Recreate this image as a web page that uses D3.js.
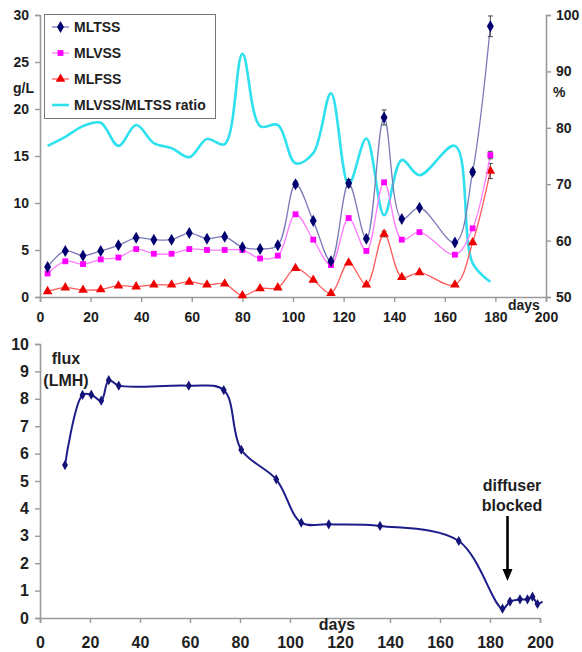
<!DOCTYPE html>
<html>
<head>
<meta charset="utf-8">
<script src="https://cdn.jsdelivr.net/npm/d3@7"></script>
<style>
  html, body { margin: 0; padding: 0; background: #fff; }
  svg { display: block; font-family: "Liberation Sans", Arial, sans-serif; font-weight: bold; }
</style>
</head>
<body>
<svg id="chart" width="582" height="652"></svg>
<script>
// ---- Sludge concentrations (g/L) sampled weekly ----
const days = [3, 10, 17, 24, 31, 38, 45, 52, 59, 66, 73, 80, 87, 94, 101, 108, 115, 122, 129, 136, 143, 150, 164, 171, 178];
const mltss = [3.2, 4.9, 4.4, 4.9, 5.5, 6.3, 6.1, 6.1, 6.8, 6.2, 6.4, 5.3, 5.1, 5.5, 12.0, 8.1, 3.8, 12.1, 6.2, 19.1, 8.3, 9.5, 5.8, 13.3, 28.8];
const mlvss = [2.5, 3.8, 3.5, 4.0, 4.2, 5.1, 4.6, 4.6, 5.1, 5.0, 5.0, 5.0, 4.1, 4.4, 8.8, 6.1, 3.4, 8.4, 4.9, 12.2, 6.1, 6.9, 4.5, 7.3, 15.1];
const mlfss = [0.6, 1.0, 0.75, 0.8, 1.2, 1.1, 1.3, 1.3, 1.6, 1.3, 1.4, 0.15, 0.9, 1.0, 3.05, 1.8, 0.4, 3.65, 1.3, 6.7, 2.1, 2.6, 1.3, 5.8, 13.4];
// standard deviations (only a few samples have visible error bars)
const mltssErr = [0, 0, 0, 0, 0, 0, 0, 0, 0, 0, 0, 0, 0, 0, 0.3, 0, 0, 0.4, 0, 0.8, 0, 0, 0, 0.3, 1.1];
const mlvssErr = [0, 0, 0, 0, 0, 0, 0, 0, 0, 0, 0, 0, 0, 0, 0, 0, 0, 0, 0, 0, 0, 0, 0, 0, 0.4];
const mlfssErr = [0, 0, 0, 0, 0, 0, 0, 0, 0, 0, 0, 0, 0, 0, 0, 0, 0, 0, 0, 0.3, 0, 0, 0, 0, 0.8];
// MLVSS/MLTSS ratio (%)
const ratio = [76.8, 78.4, 80.3, 80.9, 76.8, 80.5, 77.3, 76.4, 74.8, 78.0, 77.1, 93.1, 80.3, 80.5, 73.7, 75.5, 86.1, 70.0, 78.1, 64.5, 74.3, 71.6, 76.8, 56.0, 52.7];

// ---- Permeate flux (LMH) ----
const fluxDays = [10, 17, 20.5, 24.5, 27.5, 31.5, 59.5, 73.5, 80.5, 94.5, 104.5, 115.5, 136, 167.5, 185, 188, 192, 195, 197, 199, 201];
const fluxVals = [5.58, 8.14, 8.15, 7.93, 8.68, 8.48, 8.48, 8.32, 6.14, 5.06, 3.48, 3.42, 3.36, 2.81, 0.34, 0.6, 0.68, 0.68, 0.78, 0.51, 0.6];

// ---- Axis ticks ----
const dayTicks = [0, 20, 40, 60, 80, 100, 120, 140, 160, 180, 200];
const concTicks = [0, 5, 10, 15, 20, 25, 30];
const pctTicks = [50, 60, 70, 80, 90, 100];
const fluxTicks = [0, 1, 2, 3, 4, 5, 6, 7, 8, 9, 10];

const svg = d3.select("#chart");
const axisColor = "#9a9a9a";
const textColor = "#1e1e1e";

function styleAxis(g, fontSize) {
  g.selectAll("path.domain").attr("stroke", axisColor).attr("stroke-width", 1.6);
  g.selectAll(".tick line").attr("stroke", axisColor).attr("stroke-width", 1.4);
  g.selectAll(".tick text").attr("fill", textColor)
    .attr("font-family", "Liberation Sans, Arial, sans-serif")
    .attr("font-weight", "bold").attr("font-size", fontSize);
}

// ================= Upper panel: suspended solids =================
const x1 = d3.scaleLinear().domain([0, 200]).range([40, 546]);
const yL = d3.scaleLinear().domain([0, 30]).range([297, 15]);
const yR = d3.scaleLinear().domain([50, 100]).range([297, 15]);

const upper = svg.append("g");
upper.append("g").attr("transform", `translate(0,${yL(0)})`)
  .call(d3.axisBottom(x1).tickValues(dayTicks).tickSize(5).tickPadding(10))
  .call(g => styleAxis(g, 14));
upper.append("g").attr("transform", `translate(${x1(0)},0)`)
  .call(d3.axisLeft(yL).tickValues(concTicks).tickSize(5).tickPadding(6))
  .call(g => styleAxis(g, 14));
upper.append("g").attr("transform", `translate(${x1(200)},0)`)
  .call(d3.axisRight(yR).tickValues(pctTicks).tickSize(5).tickPadding(5))
  .call(g => styleAxis(g, 14));

const smooth = d3.curveCatmullRom.alpha(0.5);

// ratio curve (right axis)
upper.append("path")
  .datum(days.map((d, i) => [d, ratio[i]]))
  .attr("fill", "none").attr("stroke", "#2fe0ee").attr("stroke-width", 2.6)
  .attr("d", d3.line().x(d => x1(d[0])).y(d => yR(d[1])).curve(smooth));

const series = [
  { name: "MLTSS", vals: mltss, err: mltssErr, line: "#7a7ab8", mark: "#000070", sym: d3.symbolDiamond, size: 42 },
  { name: "MLVSS", vals: mlvss, err: mlvssErr, line: "#ff7cff", mark: "#ff00ff", sym: d3.symbolSquare, size: 34 },
  { name: "MLFSS", vals: mlfss, err: mlfssErr, line: "#ff5a5a", mark: "#ee0000", sym: d3.symbolTriangle, size: 40 }
];

series.slice().reverse().forEach(s => {
  const pts = days.map((d, i) => ({ d, v: s.vals[i], e: s.err[i] }));
  upper.append("path").datum(pts)
    .attr("fill", "none").attr("stroke", s.line).attr("stroke-width", 1.3)
    .attr("d", d3.line().x(p => x1(p.d)).y(p => yL(p.v)).curve(smooth));
  // error bars
  const eb = upper.append("g").attr("stroke", "#333").attr("stroke-width", 0.9);
  pts.filter(p => p.e > 0).forEach(p => {
    const cx = x1(p.d);
    eb.append("line").attr("x1", cx).attr("x2", cx).attr("y1", yL(p.v - p.e)).attr("y2", yL(p.v + p.e));
    eb.append("line").attr("x1", cx - 2.5).attr("x2", cx + 2.5).attr("y1", yL(p.v + p.e)).attr("y2", yL(p.v + p.e));
    eb.append("line").attr("x1", cx - 2.5).attr("x2", cx + 2.5).attr("y1", yL(p.v - p.e)).attr("y2", yL(p.v - p.e));
  });
  upper.append("g").selectAll("path").data(pts).join("path")
    .attr("transform", p => `translate(${x1(p.d)},${yL(p.v)})`)
    .attr("d", d3.symbol(s.sym, s.size))
    .attr("fill", s.mark);
});

// axis titles
upper.append("text").attr("x", 13).attr("y", 93).attr("font-size", 14).attr("fill", textColor).text("g/L");
upper.append("text").attr("x", 553).attr("y", 97).attr("font-size", 14).attr("fill", textColor).text("%");
upper.append("text").attr("x", 508).attr("y", 310).attr("font-size", 14).attr("fill", textColor).text("days");

// legend
const leg = upper.append("g");
leg.append("rect").attr("x", 44.5).attr("y", 14.5).attr("width", 171).attr("height", 104)
  .attr("fill", "#fff").attr("stroke", "#777").attr("stroke-width", 1);
const legItems = series.map(s => ({ name: s.name, line: s.line, mark: s.mark, sym: s.sym, size: s.size, w: 1.3 }))
  .concat([{ name: "MLVSS/MLTSS ratio", line: "#2fe0ee", mark: null, w: 2.6 }]);
legItems.forEach((it, i) => {
  const yy = 27 + i * 26;
  leg.append("line").attr("x1", 52).attr("x2", 69).attr("y1", yy).attr("y2", yy)
    .attr("stroke", it.line).attr("stroke-width", it.w);
  if (it.mark) {
    leg.append("path").attr("transform", `translate(60.5,${yy})`)
      .attr("d", d3.symbol(it.sym, it.size)).attr("fill", it.mark);
  }
  leg.append("text").attr("x", 74).attr("y", yy + 5).attr("font-size", 14).attr("fill", textColor).text(it.name);
});

// ================= Lower panel: flux =================
const x2 = d3.scaleLinear().domain([0, 200]).range([40, 540]);
const y2 = d3.scaleLinear().domain([0, 10]).range([618, 344]);

const lower = svg.append("g");
lower.append("g").attr("transform", `translate(0,${y2(0)})`)
  .call(d3.axisBottom(x2).tickValues(dayTicks).tickSize(5).tickPadding(14))
  .call(g => styleAxis(g, 16));
lower.append("g").attr("transform", `translate(${x2(0)},0)`)
  .call(d3.axisLeft(y2).tickValues(fluxTicks).tickSize(5).tickPadding(6))
  .call(g => styleAxis(g, 16));

const fluxPts = fluxDays.map((d, i) => [d, fluxVals[i]]);
lower.append("path").datum(fluxPts)
  .attr("fill", "none").attr("stroke", "#1c1c8a").attr("stroke-width", 2)
  .attr("d", d3.line().x(d => x2(d[0])).y(d => y2(d[1])).curve(smooth));
lower.append("g").selectAll("path").data(fluxPts.slice(0, -1)).join("path")
  .attr("transform", d => `translate(${x2(d[0])},${y2(d[1])})`)
  .attr("d", d3.symbol(d3.symbolDiamond, 30))
  .attr("fill", "#141478");

lower.append("text").attr("x", 66).attr("y", 364).attr("text-anchor", "middle").attr("font-size", 16).attr("fill", textColor).text("flux");
lower.append("text").attr("x", 66).attr("y", 386).attr("text-anchor", "middle").attr("font-size", 16).attr("fill", textColor).text("(LMH)");
lower.append("text").attr("x", 337).attr("y", 630).attr("text-anchor", "middle").attr("font-size", 16).attr("fill", textColor).text("days");

// annotation: diffuser blocked
lower.append("text").attr("x", 512).attr("y", 491).attr("text-anchor", "middle").attr("font-size", 16).attr("fill", textColor).text("diffuser");
lower.append("text").attr("x", 512).attr("y", 511).attr("text-anchor", "middle").attr("font-size", 16).attr("fill", textColor).text("blocked");
const ax = x2(187);
lower.append("line").attr("x1", ax).attr("x2", ax).attr("y1", 516).attr("y2", 570)
  .attr("stroke", "#000").attr("stroke-width", 2.6);
lower.append("path").attr("d", `M${ax - 5},569 L${ax + 5},569 L${ax},581 Z`).attr("fill", "#000");
</script>
</body>
</html>
